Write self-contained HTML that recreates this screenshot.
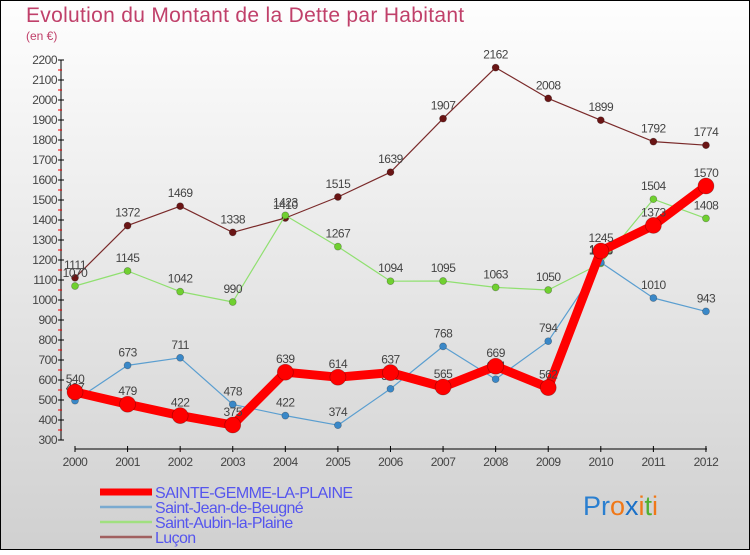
<!DOCTYPE html>
<html><head><meta charset="utf-8"><style>
body{margin:0;width:750px;height:550px;overflow:hidden;font-family:"Liberation Sans",sans-serif}
svg text{font-family:"Liberation Sans",sans-serif}
</style></head><body>
<svg width="750" height="550">
<defs><linearGradient id="bg" x1="0" y1="0" x2="0" y2="1"><stop offset="0" stop-color="#fefefe"/><stop offset="1" stop-color="#d0d0d0"/></linearGradient></defs>
<rect x="0.5" y="0.5" width="749" height="549" fill="url(#bg)" stroke="#000"/>
<text x="26" y="22" font-size="21" fill="#c0406a" letter-spacing="0.3">Evolution du Montant de la Dette par Habitant</text>
<text x="26" y="40" font-size="12" fill="#c0406a">(en €)</text>
<g id="axes"></g><g id="series"></g><g id="legend"></g>
<text x="583" y="515" font-size="27"><tspan fill="#2a7fd0">Pr</tspan><tspan fill="#f07818">o</tspan><tspan fill="#1a70c8">x</tspan><tspan fill="#f07818">i</tspan><tspan fill="#50b030">t</tspan><tspan fill="#f07818">i</tspan></text>
</svg>
<script>
const years=[2000,2001,2002,2003,2004,2005,2006,2007,2008,2009,2010,2011,2012];
const yTicks=[300,400,500,600,700,800,900,1000,1100,1200,1300,1400,1500,1600,1700,1800,1900,2000,2100,2200];
const sainteGemme=[540,479,422,375,639,614,637,565,669,562,1245,1373,1570];
const saintJean=[497,673,711,478,422,374,556,768,604,794,1188,1010,943];
const saintAubin=[1070,1145,1042,990,1423,1267,1094,1095,1063,1050,1183,1504,1408];
const lucon=[1111,1372,1469,1338,1410,1515,1639,1907,2162,2008,1899,1792,1774];
const NS='http://www.w3.org/2000/svg';
const xs=i=>75+i*52.58;
const ys=v=>60+(2200-v)/5;
function mk(t,a,p){const e=document.createElementNS(NS,t);for(const k in a)e.setAttribute(k,a[k]);p.appendChild(e);return e;}
const ax=document.getElementById('axes');
const yl=mk('line',{x1:61,y1:60,x2:61,y2:440,stroke:'#000'},ax);


yTicks.forEach(v=>{
 mk('line',{x1:58,x2:64,y1:ys(v),y2:ys(v),stroke:'#000'},ax);
 if(v<2200)mk('line',{x1:58,x2:62,y1:ys(v+50),y2:ys(v+50),stroke:'#e00'},ax);
 const t=mk('text',{x:57,y:ys(v)+4,'text-anchor':'end','font-size':12,fill:'#444','letter-spacing':'-0.5'},ax);
 t.textContent=v;
 
 
});
const xl=mk('line',{x1:75,y1:449,x2:707,y2:449,stroke:'#000'},ax);


years.forEach((y,i)=>{
 mk('line',{x1:xs(i),x2:xs(i),y1:446,y2:452,stroke:'#000'},ax);
 const t=mk('text',{x:xs(i),y:466,'text-anchor':'middle','font-size':12,fill:'#444','letter-spacing':'-0.5'},ax);
 t.textContent=y;
 
 
});
const sg=document.getElementById('series');
const defs=[
 {d:lucon,c:'#7a2a2a',w:1.2,r:3.5,f:'#6a1515',n:'lucon'},
 {d:saintAubin,c:'#90e070',w:1.2,r:3.5,f:'#70d030',n:'saint-aubin'},
 {d:saintJean,c:'#5a9ed0',w:1.2,r:3.5,f:'#3a88c8',n:'saint-jean'},
 {d:sainteGemme,c:'#f00',w:9,r:8,f:'#f00',n:'sainte-gemme'}];
defs.forEach(s=>{
 const g=mk('g',{},sg);
 
 
 mk('polyline',{points:s.d.map((v,i)=>xs(i)+','+ys(v)).join(' '),fill:'none',stroke:s.c,'stroke-width':s.w,'stroke-linejoin':'round'},g);
 s.d.forEach((v,i)=>{
  const c=mk('circle',{cx:xs(i),cy:ys(v),r:s.r,fill:s.f,stroke:'rgba(0,0,0,0.3)','stroke-width':0.7},g);
  
  
  const t=mk('text',{x:xs(i),y:ys(v)-9,'text-anchor':'middle','font-size':12,fill:'#444','letter-spacing':'-0.5'},g);
  t.textContent=v;
  
  
 });
});
const lg=document.getElementById('legend');
const names=['SAINTE-GEMME-LA-PLAINE','Saint-Jean-de-Beugné','Saint-Aubin-la-Plaine','Luçon'];
const lc=['#f00','#7aaad0','#a0e080','#a06060'];const lw=[7,2.5,2.5,2.5];
names.forEach((n,i)=>{
 const y=492+i*15;
 const g=mk('g',{},lg);
 
 
 mk('line',{x1:100,x2:152,y1:y,y2:y,stroke:lc[i],'stroke-width':lw[i]},g);
 const t=mk('text',{x:155,y:y+6,'font-size':16,fill:'#5555ee','letter-spacing':'-0.6'},g);
 t.textContent=n;
});
</script>
</body></html>
